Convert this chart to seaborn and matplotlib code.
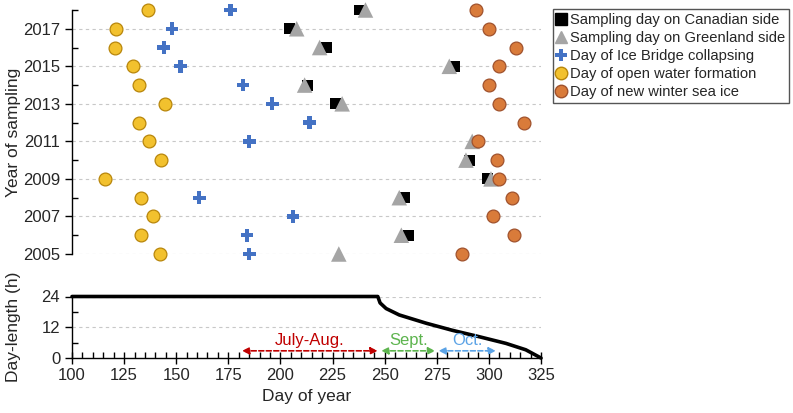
import numpy as np
import pandas as pd
import matplotlib
matplotlib.use("Agg")
import matplotlib.pyplot as plt
import seaborn as sns
from matplotlib.ticker import MultipleLocator
from matplotlib.lines import Line2D

sns.set_theme(style="white")
plt.rcParams['font.family'] = ['Liberation Sans', 'DejaVu Sans']

years = list(range(2005, 2019))
nan = np.nan
# day of year per year (2005 ... 2018)
canadian_day  = [nan, 261.5, nan, 259.5, 299.4, 290.9, nan, nan, 226.5, 213.0, 283.4, 222.0, 204.4, 238.0]
greenland_day = [228.0, 258.0, nan, 257.0, 301.0, 289.0, 292.0, nan, 229.6, 211.6, 281.0, 218.8, 207.8, 240.8]
icebridge_day = [185.0, 184.0, 206.0, 161.0, nan, nan, 185.0, 214.0, 196.0, 182.0, 152.0, 144.0, 148.0, 176.0]
openwater_day = [142.0, 133.0, 139.0, 133.0, 116.0, 142.6, 137.0, 132.0, 144.5, 132.0, 129.4, 120.4, 121.0, 136.5]
newice_day    = [287.0, 312.0, 302.0, 311.0, 305.0, 304.0, 295.0, 317.0, 305.0, 300.0, 305.0, 313.0, 300.0, 294.0]

series_labels = ["Sampling day on Canadian side", "Sampling day on Greenland side",
                 "Day of Ice Bridge collapsing", "Day of open water formation",
                 "Day of new winter sea ice"]

# day length curve
dl_day   = [100, 246.7, 247.8, 250.7, 257.0, 269.8, 282.5, 295.4, 308.2, 317.7, 322.5, 325.0]
dl_hours = [24, 24, 21.5, 19.3, 16.8, 13.6, 10.8, 8.3, 5.7, 3.2, 1.1, 0.0]

# month ranges
months = ["July-Aug.", "Sept.", "Oct."]
month_start = [181.5, 248.3, 275.8]
month_end = [246.7, 274.3, 303.4]

df = pd.DataFrame({"year": years, "can": canadian_day, "grl": greenland_day,
                   "ice": icebridge_day, "ow": openwater_day, "new": newice_day})
dl = pd.DataFrame({"day": dl_day, "h": dl_hours})

W, H = 793, 413
fig = plt.figure(figsize=(W / 100, H / 100), dpi=100)
left, right = 72 / W, 541 / W
ax1 = fig.add_axes([left, 1 - 254 / H, right - left, (254 - 10) / H])
ax2 = fig.add_axes([left, 1 - 358 / H, right - left, (358 - 296.5) / H])

styles = {
    "can": dict(marker="s", color="black", s=62, edgecolor="none"),
    "grl": dict(marker="^", color="#A5A5A5", s=125, edgecolor="none"),
    "ice": dict(marker="P", color="#4472C4", s=85, edgecolor="none"),
    "ow":  dict(marker="o", color="#F2C12E", s=85, edgecolor="#B8860B", linewidth=0.9),
    "new": dict(marker="o", color="#D97B3A", s=85, edgecolor="#A0522D", linewidth=0.9),
}
for key in ["can", "grl", "ice", "ow", "new"]:
    st = styles[key]
    sns.scatterplot(data=df, x=key, y="year", ax=ax1, clip_on=False, zorder=3,
                    legend=False, **st)

ax1.set_xlim(100, 325)
ax1.set_ylim(2005, 2018)
ax1.set_yticks(list(range(2005, 2019, 2)))
ax1.yaxis.set_minor_locator(MultipleLocator(1))
ax1.set_xticks([])
for sp in ["top", "right", "bottom"]:
    ax1.spines[sp].set_visible(False)
ax1.spines["left"].set_color("black")
ax1.spines["left"].set_linewidth(1.0)
ax1.grid(axis="y", which="major", color="#C8C8C8", linestyle=(0, (3, 3)), linewidth=0.8)
ax1.tick_params(axis="y", which="major", direction="out", length=5, width=1, labelsize=12, color="black", left=True)
ax1.tick_params(axis="y", which="minor", direction="in", length=4, width=1, color="black", left=True)
ax1.set_xlabel("")
ax1.set_ylabel("Year of sampling", fontsize=12.5)

# bottom panel
sns.lineplot(data=dl, x="day", y="h", ax=ax2, color="black", linewidth=2.6, clip_on=False)
ax2.set_xlim(100, 325)
ax2.set_ylim(0, 24)
ax2.set_yticks([0, 12, 24])
ax2.yaxis.set_minor_locator(MultipleLocator(6))
ax2.xaxis.set_major_locator(MultipleLocator(25))
ax2.xaxis.set_minor_locator(MultipleLocator(5))
for sp in ["top", "right"]:
    ax2.spines[sp].set_visible(False)
for sp in ["left", "bottom"]:
    ax2.spines[sp].set_color("black")
    ax2.spines[sp].set_linewidth(1.0)
ax2.grid(axis="y", which="major", color="#C8C8C8", linestyle=(0, (3, 3)), linewidth=0.8)
ax2.tick_params(axis="y", which="major", direction="out", length=5, width=1, labelsize=12, left=True, color="black")
ax2.tick_params(axis="y", which="minor", direction="in", length=4, width=1, left=True, color="black")
ax2.tick_params(axis="x", which="major", direction="inout", length=8, width=1, labelsize=12, bottom=True, color="black")
ax2.tick_params(axis="x", which="minor", direction="in", length=4, width=1, bottom=True, color="black")
ax2.set_xlabel("Day of year", fontsize=12.5)
ax2.set_ylabel("Day-length (h)", fontsize=12.5)

month_colors = ["#C00000", "#5DB44E", "#5BA3E6"]
for name, a, b, c in zip(months, month_start, month_end, month_colors):
    ax2.annotate("", xy=(b, 2.8), xytext=(a, 2.8),
                 arrowprops=dict(arrowstyle="<|-|>,head_length=0.35,head_width=0.17",
                                 color=c, linestyle=(0, (3, 1.5)), linewidth=1.2,
                                 shrinkA=0, shrinkB=0))
    ax2.text((a + b) / 2, 6.7, name, color=c, fontsize=12, ha="center", va="center")

ax1.yaxis.set_label_coords(-0.108, 0.5)
ax2.yaxis.set_label_coords(-0.108, 0.5)

handles = [
    Line2D([], [], marker="s", color="black", linestyle="none", markersize=8),
    Line2D([], [], marker="^", color="#A5A5A5", linestyle="none", markersize=9),
    Line2D([], [], marker="P", color="#4472C4", linestyle="none", markersize=9, markeredgewidth=0),
    Line2D([], [], marker="o", color="#F2C12E", markeredgecolor="#B8860B", linestyle="none", markersize=9),
    Line2D([], [], marker="o", color="#D97B3A", markeredgecolor="#A0522D", linestyle="none", markersize=9),
]
leg = fig.legend(handles, series_labels, loc="upper left",
                 bbox_to_anchor=(552.5 / W, 1 - 9.3 / H), fontsize=10.6,
                 frameon=True, fancybox=False, framealpha=1, edgecolor="#555555",
                 handlelength=0.7, handletextpad=0.25, labelspacing=0.27,
                 borderpad=0.25, borderaxespad=0)
leg.get_frame().set_linewidth(1.0)

fig.savefig("out.png", dpi=100)
